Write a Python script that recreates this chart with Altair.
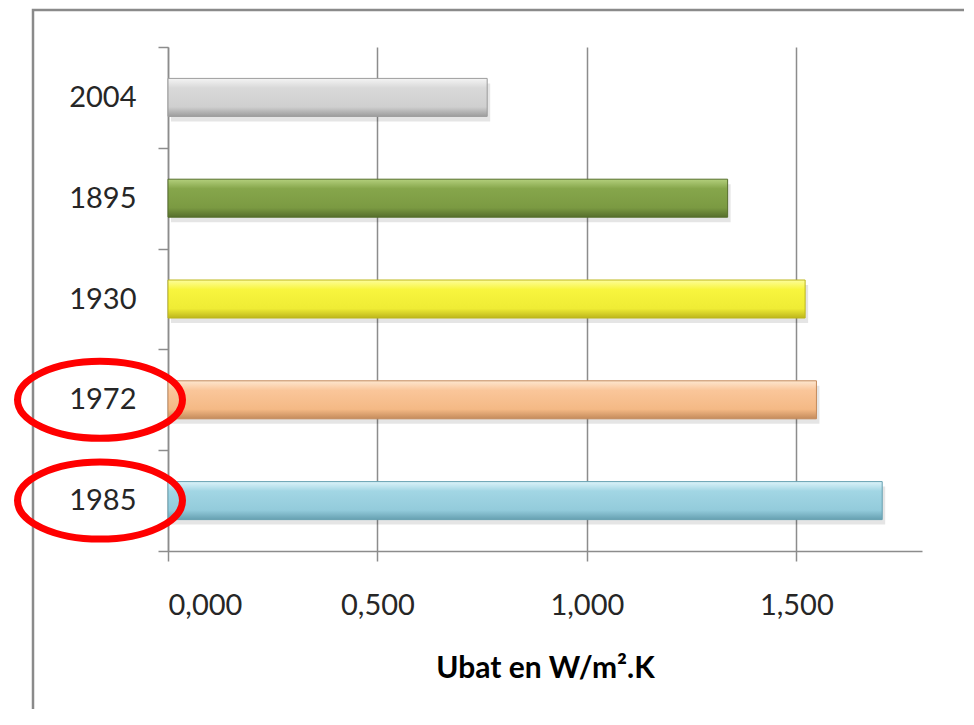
import altair as alt
import pandas as pd

# ---- data ----
years = ["2004", "1895", "1930", "1972", "1985"]
ubat = [0.762, 1.336, 1.521, 1.548, 1.705]
highlighted = ["1972", "1985"]
x_ticks = [0.0, 0.5, 1.0, 1.5]

# gradient stops per bar (top highlight, body, bottom shade)
bar_colors = {
    "2004": ["#f4f4f4", "#d9d9d9", "#cfcfcf", "#9c9c9c"],
    "1895": ["#b3cf7c", "#86a64b", "#7b9a42", "#566e2c"],
    "1930": ["#fdfd9a", "#f8f53e", "#efec35", "#bdb61c"],
    "1972": ["#fde6cf", "#fac69a", "#f4b985", "#c48b5c"],
    "1985": ["#dcf3f9", "#a2d6e4", "#93cbdb", "#66a0b1"],
}

df = pd.DataFrame({"year": years, "ubat": ubat})
df_hl = pd.DataFrame({"year": highlighted})
df_one = pd.DataFrame({"a": [0]})

FONT = "Lato"

y_enc = alt.Y(
    "year:N",
    sort=years,
    scale=alt.Scale(domain=years, paddingInner=0, paddingOuter=0),
    axis=alt.Axis(
        title=None,
        tickBand="extent",
        tickSize=10,
        tickColor="#8c8c8c",
        tickWidth=1.5,
        domainColor="#8c8c8c",
        domainWidth=1.5,
        labelFont=FONT,
        labelFontSize=29,
        labelColor="#262626",
        labelPadding=22,
        grid=False,
    ),
)

x_enc = alt.X(
    "ubat:Q",
    scale=alt.Scale(domain=[0, 1.8], nice=False, zero=True),
    axis=alt.Axis(
        title="Ubat en W/m².K",
        values=x_ticks,
        labelExpr="replace(format(datum.value, '.3f'), '.', ',')",
        tickSize=10,
        tickColor="#8c8c8c",
        tickWidth=1.5,
        domainColor="#8c8c8c",
        domainWidth=1.5,
        grid=True,
        gridColor="#8c8c8c",
        gridWidth=1.5,
        labelFont=FONT,
        labelFontSize=29,
        labelColor="#262626",
        labelPadding=30,
        titleFont=FONT,
        titleFontSize=30,
        titleFontWeight="bold",
        titleColor="#000000",
        titlePadding=33,
    ),
)

layers = []

# outer frame (decoration)
frame = alt.Chart(df_one).mark_rect(
    fill="transparent", stroke="#8a8a8a", strokeWidth=2.5
).encode(
    x=alt.value(-135), x2=alt.value(820), y=alt.value(-37), y2=alt.value(690)
)
layers.append(frame)

# soft shadow under bars
shadow = alt.Chart(df).mark_bar(
    size=38, color="#000000", opacity=0.10, yOffset=5, xOffset=3
).encode(x=x_enc, y=y_enc)
layers.append(shadow)

for yr in years:
    c = bar_colors[yr]
    grad = alt.Gradient(
        gradient="linear",
        x1=0, y1=0, x2=0, y2=1,
        stops=[
            alt.GradientStop(color=c[0], offset=0),
            alt.GradientStop(color=c[1], offset=0.25),
            alt.GradientStop(color=c[2], offset=0.75),
            alt.GradientStop(color=c[3], offset=1),
        ],
    )
    layers.append(
        alt.Chart(df)
        .transform_filter(alt.datum.year == yr)
        .mark_bar(size=38, color=grad, stroke=c[3], strokeWidth=1)
        .encode(x=x_enc, y=y_enc)
    )

# red ellipses around highlighted labels
k = 0.5523
ry = 0.4667
ellipse_path = (
    f"M -1 0 C -1 {-k*ry:.4f} {-k:.4f} {-ry:.4f} 0 {-ry:.4f} "
    f"C {k:.4f} {-ry:.4f} 1 {-k*ry:.4f} 1 0 "
    f"C 1 {k*ry:.4f} {k:.4f} {ry:.4f} 0 {ry:.4f} "
    f"C {-k:.4f} {ry:.4f} -1 {k*ry:.4f} -1 0 Z"
)
ellipses = alt.Chart(df_hl).mark_point(
    shape=ellipse_path, size=27225, filled=False, stroke="#ff0000",
    strokeWidth=7, opacity=1
).encode(
    x=alt.value(-68),
    y=alt.Y("year:N", sort=years, scale=alt.Scale(domain=years, paddingInner=0, paddingOuter=0)),
)
layers.append(ellipses)

chart = (
    alt.layer(*layers)
    .properties(
        width=754,
        height=504,
        autosize=alt.AutoSizeParams(type="none"),
        padding={"left": 160, "top": 39, "right": 42, "bottom": 158},
        background="white",
    )
    .configure_view(stroke=None)
)

chart.save("out.html", embed_options={"renderer": "svg", "actions": False})
